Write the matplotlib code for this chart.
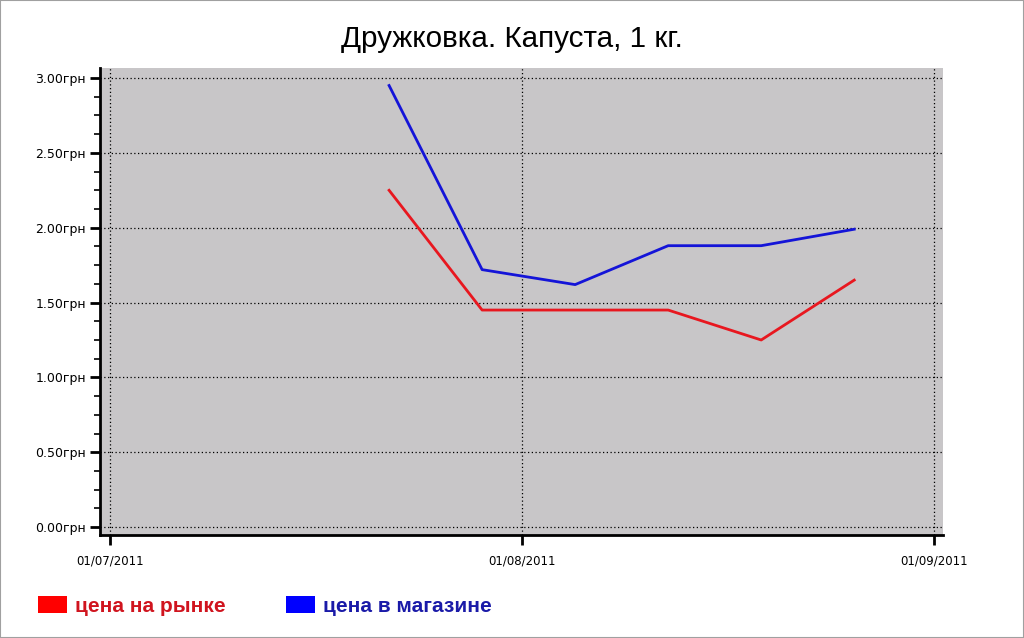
import matplotlib
matplotlib.use("Agg")
import matplotlib.pyplot as plt
import matplotlib.dates as mdates
from matplotlib.patches import Patch, Rectangle
from matplotlib.ticker import FuncFormatter, MultipleLocator
import datetime as dt

# weekly prices, Druzhkovka, cabbage 1 kg
dates = ["2011-07-22", "2011-07-29", "2011-08-05", "2011-08-12", "2011-08-19", "2011-08-26"]
market = [2.25, 1.45, 1.45, 1.45, 1.25, 1.65]
shop = [2.95, 1.72, 1.62, 1.88, 1.88, 1.99]
xticks = ["2011-07-01", "2011-08-01", "2011-09-01"]

plt.rcParams["font.family"] = ["Liberation Sans", "DejaVu Sans"]

x = [dt.datetime.strptime(d, "%Y-%m-%d") for d in dates]
xt = [dt.datetime.strptime(d, "%Y-%m-%d") for d in xticks]

fig = plt.figure(figsize=(10.24, 6.38), dpi=100)
ax = fig.add_axes([0.0977, 0.1614, 0.8232, 0.732])
ax.set_facecolor("#c8c6c8")

ax.plot(x, market, color="#e8171f", lw=2)
ax.plot(x, shop, color="#1414d8", lw=2)

ax.set_xlim(xt[0] - dt.timedelta(days=0.75), xt[-1] + dt.timedelta(days=0.68))
ax.set_ylim(-0.053, 3.067)
ax.set_xticks(xt)
ax.xaxis.set_major_formatter(mdates.DateFormatter("%d/%m/%Y"))
ax.yaxis.set_major_locator(MultipleLocator(0.5))
ax.yaxis.set_minor_locator(MultipleLocator(0.125))
ax.yaxis.set_major_formatter(FuncFormatter(lambda v, p: "%.2fгрн" % v))

ax.grid(True, which="major", color="black", linestyle=(0, (1, 2)), lw=0.9)
for s in ["top", "right"]:
    ax.spines[s].set_visible(False)
for s in ["left", "bottom"]:
    ax.spines[s].set_linewidth(2)
ax.tick_params(axis="both", which="major", direction="out", length=7, width=2)
ax.tick_params(axis="y", which="minor", direction="out", length=4.5, width=1.2)
ax.tick_params(axis="y", which="major", pad=3)
ax.tick_params(axis="x", which="major", pad=7)
for lab in ax.get_yticklabels():
    lab.set_family("DejaVu Sans")
    lab.set_fontsize(9)
for lab in ax.get_xticklabels():
    lab.set_family("DejaVu Sans")
    lab.set_fontsize(8.5)

fig.text(0.5, 0.939, "Дружковка. Капуста, 1 кг.", ha="center", va="center", fontsize=21.3)

handles = [Patch(facecolor="#ff0000", edgecolor="none"), Patch(facecolor="#0000ff", edgecolor="none")]
leg = fig.legend(handles, ["цена на рынке", "цена в магазине"], loc="center left",
                 bbox_to_anchor=(0.019, 0.050), ncol=2, frameon=False,
                 prop={"size": 15, "weight": "bold"},
                 handlelength=1.4, handleheight=0.82, handletextpad=0.38, columnspacing=2.9)
leg.get_texts()[0].set_color("#d0141e")
leg.get_texts()[1].set_color("#1a1aa8")

fig.patches.append(Rectangle((0, 0), 1, 1, transform=fig.transFigure, fill=False,
                             edgecolor="#a0a0a0", lw=1.5))

fig.savefig("out.png", dpi=100)
